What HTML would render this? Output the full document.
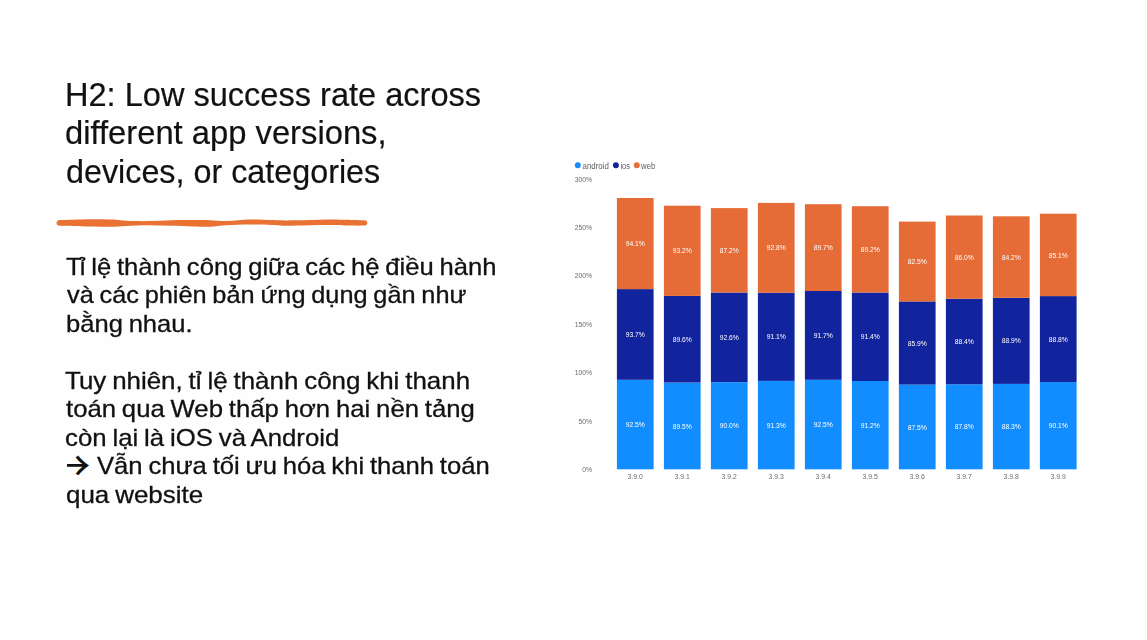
<!DOCTYPE html>
<html lang="vi">
<head>
<meta charset="utf-8">
<title>H2: Low success rate across different app versions, devices, or categories</title>
<style>
html,body{margin:0;padding:0;}
body{width:1147px;height:640px;background:#fefefe;overflow:hidden;position:relative;
  font-family:"Liberation Sans",sans-serif;color:#111;}
.ln{position:absolute;display:block;white-space:nowrap;transform-origin:0 0;}
.body .ln{-webkit-text-stroke:0.3px #111;word-spacing:-1.2px;}
.tk{letter-spacing:-1.8px;}
.title .ln{-webkit-text-stroke:0.2px #111;}
.title{margin:0;font-weight:400;font-size:33.6px;line-height:38.8px;color:#111;}
.body{margin:0;font-size:24px;line-height:28.5px;color:#111;}
.arrbox{position:absolute;display:block;left:67.2px;top:438.3px;width:23px;height:50px;overflow:hidden;}
.arr{position:absolute;display:block;left:-17.9px;top:0;font-family:"Noto Sans CJK JP","Liberation Sans",sans-serif;font-size:41px;line-height:50px;height:50px;white-space:nowrap;-webkit-text-stroke:0.15px #111;}
.chart{position:absolute;left:0;top:0;filter:blur(0.35px);}
.rule{position:absolute;left:0;top:0;}
#t1{left:64.83px;top:75.60px;transform:scaleX(0.9693);}
#t2{left:65.48px;top:114.40px;transform:scaleX(0.9751);}
#t3{left:65.50px;top:153.20px;transform:scaleX(0.9619);}
#b1{left:66.37px;top:252.74px;transform:scaleX(1.0663);}
#b2{left:66.90px;top:281.24px;transform:scaleX(1.0548);}
#b3{left:66.10px;top:309.74px;transform:scaleX(1.0646);}
#b5{left:65.36px;top:366.74px;transform:scaleX(1.0790);}
#b6{left:66.13px;top:395.24px;transform:scaleX(1.0706);}
#b7{left:65.33px;top:423.74px;transform:scaleX(1.0735);}
#b8{left:97.40px;top:452.24px;transform:scaleX(1.0671);}
#b9{left:65.59px;top:480.74px;transform:scaleX(1.0810);}
</style>
</head>
<body>
<h1 class="title"><span class="ln" id="t1">H2: Low success rate across</span> <span class="ln" id="t2">different app versions,</span> <span class="ln" id="t3">devices, or categories</span></h1>
<svg class="rule" width="1147" height="640" viewBox="0 0 1147 640">
<path d="M60 220.10 C64.9 219.95 80.9 219.28 89.5 219.20 C98.1 219.12 105.5 219.33 111.7 219.60 C117.9 219.87 120.3 220.55 126.5 220.80 C132.7 221.05 141.3 221.20 148.7 221.10 C156.1 221.00 163.6 220.37 171.0 220.20 C178.4 220.03 186.7 220.08 193.2 220.10 C199.7 220.12 204.4 220.13 210.0 220.30 C215.6 220.47 220.4 221.22 227.0 221.10 C233.6 220.98 242.1 219.77 249.5 219.60 C256.9 219.43 265.5 219.95 271.7 220.10 C277.9 220.25 280.3 220.50 286.5 220.50 C292.7 220.50 301.3 220.25 308.7 220.10 C316.1 219.95 323.6 219.60 331.0 219.60 C338.4 219.60 347.5 219.98 353.0 220.10 C358.5 220.22 362.2 220.27 364.0 220.30 C368.5 220.30 368.5 225.60 364 225.60 C362.2 225.60 358.5 225.70 353.0 225.60 C347.5 225.50 338.4 225.05 331.0 225.00 C323.6 224.95 316.1 225.17 308.7 225.30 C301.3 225.43 292.7 225.85 286.5 225.80 C280.3 225.75 277.9 225.20 271.7 225.00 C265.5 224.80 256.9 224.55 249.5 224.60 C242.1 224.65 233.6 224.93 227.0 225.30 C220.4 225.67 215.6 226.60 210.0 226.80 C204.4 227.00 199.7 226.67 193.2 226.50 C186.7 226.33 178.4 226.00 171.0 225.80 C163.6 225.60 156.1 225.27 148.7 225.30 C141.3 225.33 132.7 225.75 126.5 226.00 C120.3 226.25 117.9 226.72 111.7 226.80 C105.5 226.88 98.1 226.67 89.5 226.50 C80.9 226.33 64.9 225.92 60.0 225.80 C55.4 225.80 55.4 220.10 60 220.10 Z" fill="#e97132"/>
</svg>
<p class="body"><span class="ln" id="b1"><span class="tk">T</span>ỉ lệ thành công giữa các hệ điều hành</span> <span class="ln" id="b2">và các phiên bản ứng dụng gần như</span> <span class="ln" id="b3">bằng nhau.</span></p>
<p class="body"><span class="ln" id="b5"><span class="tk">T</span>uy nhiên, tỉ lệ thành công khi thanh</span> <span class="ln" id="b6">toán qua Web thấp hơn hai nền tảng</span> <span class="ln" id="b7">còn lại là iOS và Android</span> <span class="arrbox"><span class="arr" id="arr">→</span></span> <span class="ln" id="b8">Vẫn chưa tối ưu hóa khi thanh toán</span> <span class="ln" id="b9">qua website</span></p>
<svg class="chart" width="1147" height="640" viewBox="0 0 1147 640">
<rect x="573" y="158" width="516" height="328" fill="#ffffff"/>
<g font-family="'Liberation Sans', sans-serif" font-size="9.2" fill="#605e5c">
<circle cx="577.8" cy="165.2" r="2.95" fill="#118dff"/><text x="582.5" y="169" textLength="26.4" lengthAdjust="spacingAndGlyphs">android</text>
<circle cx="615.9" cy="165.2" r="2.95" fill="#12239e"/><text x="620.4" y="169" textLength="9.7" lengthAdjust="spacingAndGlyphs">ios</text>
<circle cx="636.8" cy="165.2" r="2.95" fill="#e66c37"/><text x="641.1" y="169" textLength="14.1" lengthAdjust="spacingAndGlyphs">web</text>
</g>
<g font-family="'Liberation Sans', sans-serif" font-size="8.0" fill="#6a6a6a" text-anchor="end">
<text transform="translate(592.2 472) scale(0.855 1)">0%</text>
<text transform="translate(592.2 424) scale(0.855 1)">50%</text>
<text transform="translate(592.2 375) scale(0.855 1)">100%</text>
<text transform="translate(592.2 327) scale(0.855 1)">150%</text>
<text transform="translate(592.2 278) scale(0.855 1)">200%</text>
<text transform="translate(592.2 230) scale(0.855 1)">250%</text>
<text transform="translate(592.2 182) scale(0.855 1)">300%</text>
</g>
<rect x="616.9" y="379.8" width="36.7" height="89.5" fill="#118dff"/>
<rect x="616.9" y="289.1" width="36.7" height="90.7" fill="#12239e"/>
<rect x="616.9" y="198.0" width="36.7" height="91.1" fill="#e66c37"/>
<rect x="663.9" y="382.7" width="36.7" height="86.6" fill="#118dff"/>
<rect x="663.9" y="295.9" width="36.7" height="86.7" fill="#12239e"/>
<rect x="663.9" y="205.7" width="36.7" height="90.2" fill="#e66c37"/>
<rect x="710.9" y="382.2" width="36.7" height="87.1" fill="#118dff"/>
<rect x="710.9" y="292.5" width="36.7" height="89.6" fill="#12239e"/>
<rect x="710.9" y="208.1" width="36.7" height="84.4" fill="#e66c37"/>
<rect x="757.9" y="380.9" width="36.7" height="88.4" fill="#118dff"/>
<rect x="757.9" y="292.7" width="36.7" height="88.2" fill="#12239e"/>
<rect x="757.9" y="202.9" width="36.7" height="89.8" fill="#e66c37"/>
<rect x="804.9" y="379.8" width="36.7" height="89.5" fill="#118dff"/>
<rect x="804.9" y="291.0" width="36.7" height="88.8" fill="#12239e"/>
<rect x="804.9" y="204.2" width="36.7" height="86.8" fill="#e66c37"/>
<rect x="851.9" y="381.0" width="36.7" height="88.3" fill="#118dff"/>
<rect x="851.9" y="292.5" width="36.7" height="88.5" fill="#12239e"/>
<rect x="851.9" y="206.2" width="36.7" height="86.3" fill="#e66c37"/>
<rect x="898.9" y="384.6" width="36.7" height="84.7" fill="#118dff"/>
<rect x="898.9" y="301.4" width="36.7" height="83.2" fill="#12239e"/>
<rect x="898.9" y="221.6" width="36.7" height="79.9" fill="#e66c37"/>
<rect x="945.9" y="384.3" width="36.7" height="85.0" fill="#118dff"/>
<rect x="945.9" y="298.7" width="36.7" height="85.6" fill="#12239e"/>
<rect x="945.9" y="215.5" width="36.7" height="83.2" fill="#e66c37"/>
<rect x="992.9" y="383.8" width="36.7" height="85.5" fill="#118dff"/>
<rect x="992.9" y="297.8" width="36.7" height="86.1" fill="#12239e"/>
<rect x="992.9" y="216.3" width="36.7" height="81.5" fill="#e66c37"/>
<rect x="1039.9" y="382.1" width="36.7" height="87.2" fill="#118dff"/>
<rect x="1039.9" y="296.1" width="36.7" height="86.0" fill="#12239e"/>
<rect x="1039.9" y="213.7" width="36.7" height="82.4" fill="#e66c37"/>
<g font-family="'Liberation Sans', sans-serif" font-size="7.9" fill="#ffffff" text-anchor="middle">
<text transform="translate(635.2 427) scale(0.855 1)">92.5%</text>
<text transform="translate(635.2 337) scale(0.855 1)">93.7%</text>
<text transform="translate(635.2 246) scale(0.855 1)">94.1%</text>
<text transform="translate(682.2 429) scale(0.855 1)">89.5%</text>
<text transform="translate(682.2 342) scale(0.855 1)">89.6%</text>
<text transform="translate(682.2 253) scale(0.855 1)">93.2%</text>
<text transform="translate(729.2 428) scale(0.855 1)">90.0%</text>
<text transform="translate(729.2 340) scale(0.855 1)">92.6%</text>
<text transform="translate(729.2 253) scale(0.855 1)">87.2%</text>
<text transform="translate(776.2 428) scale(0.855 1)">91.3%</text>
<text transform="translate(776.2 339) scale(0.855 1)">91.1%</text>
<text transform="translate(776.2 250) scale(0.855 1)">92.8%</text>
<text transform="translate(823.2 427) scale(0.855 1)">92.5%</text>
<text transform="translate(823.2 338) scale(0.855 1)">91.7%</text>
<text transform="translate(823.2 250) scale(0.855 1)">89.7%</text>
<text transform="translate(870.2 428) scale(0.855 1)">91.2%</text>
<text transform="translate(870.2 339) scale(0.855 1)">91.4%</text>
<text transform="translate(870.2 252) scale(0.855 1)">89.2%</text>
<text transform="translate(917.2 430) scale(0.855 1)">87.5%</text>
<text transform="translate(917.2 346) scale(0.855 1)">85.9%</text>
<text transform="translate(917.2 264) scale(0.855 1)">82.5%</text>
<text transform="translate(964.2 429) scale(0.855 1)">87.8%</text>
<text transform="translate(964.2 344) scale(0.855 1)">88.4%</text>
<text transform="translate(964.2 260) scale(0.855 1)">86.0%</text>
<text transform="translate(1011.2 429) scale(0.855 1)">88.3%</text>
<text transform="translate(1011.2 343) scale(0.855 1)">88.9%</text>
<text transform="translate(1011.2 260) scale(0.855 1)">84.2%</text>
<text transform="translate(1058.2 428) scale(0.855 1)">90.1%</text>
<text transform="translate(1058.2 342) scale(0.855 1)">88.8%</text>
<text transform="translate(1058.2 258) scale(0.855 1)">85.1%</text>
</g>
<g font-family="'Liberation Sans', sans-serif" font-size="8.0" fill="#6a6a6a" text-anchor="middle">
<text transform="translate(635.2 479) scale(0.855 1)">3.9.0</text>
<text transform="translate(682.2 479) scale(0.855 1)">3.9.1</text>
<text transform="translate(729.2 479) scale(0.855 1)">3.9.2</text>
<text transform="translate(776.2 479) scale(0.855 1)">3.9.3</text>
<text transform="translate(823.2 479) scale(0.855 1)">3.9.4</text>
<text transform="translate(870.2 479) scale(0.855 1)">3.9.5</text>
<text transform="translate(917.2 479) scale(0.855 1)">3.9.6</text>
<text transform="translate(964.2 479) scale(0.855 1)">3.9.7</text>
<text transform="translate(1011.2 479) scale(0.855 1)">3.9.8</text>
<text transform="translate(1058.2 479) scale(0.855 1)">3.9.9</text>
</g>
</svg>
</body>
</html>
